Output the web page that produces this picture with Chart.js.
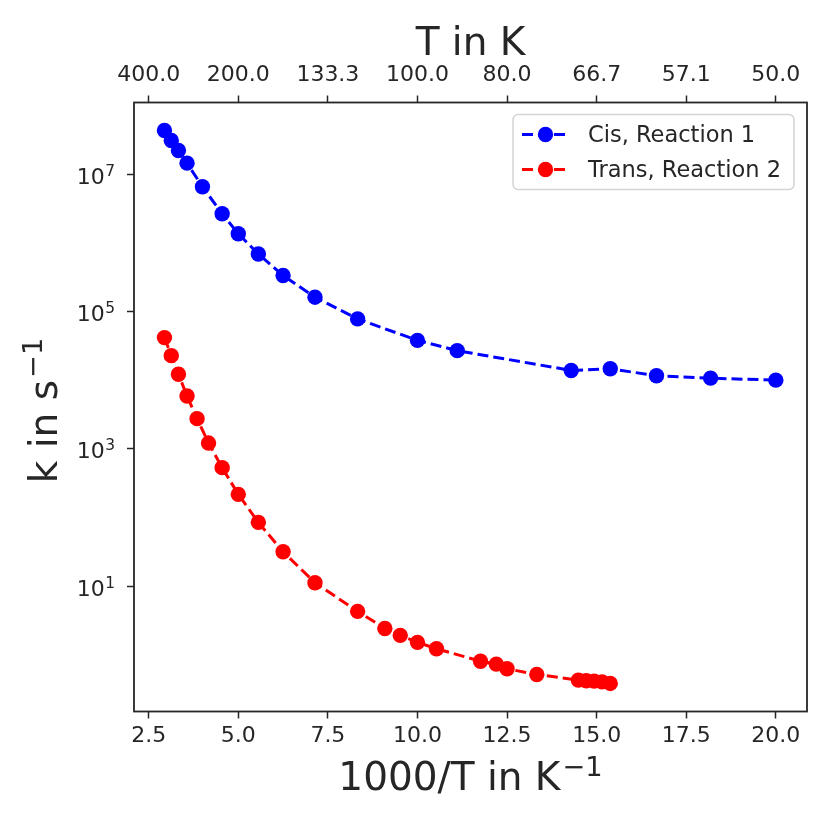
<!DOCTYPE html>
<html>
<head>
<meta charset="utf-8">
<script src="https://cdn.jsdelivr.net/npm/chart.js@4.4.0/dist/chart.umd.min.js"></script>
<style>
  html, body { margin: 0; padding: 0; background: #ffffff; }
  #wrap { width: 830px; height: 830px; }
</style>
</head>
<body>
<div id="wrap"><canvas id="c" width="830" height="830"></canvas></div>
<script>
// ---- data ----
const cisLabel = 'Cis, Reaction 1';
const transLabel = 'Trans, Reaction 2';
const cisX = [2.94, 3.13, 3.33, 3.57, 4.00, 4.55, 5.00, 5.56, 6.25, 7.14, 8.33, 10.00, 11.11, 14.29, 15.38, 16.67, 18.18, 20.00];
const cisK = [4.44e7, 3.17e7, 2.26e7, 1.48e7, 6.7e6, 2.7e6, 1.38e6, 7.0e5, 3.39e5, 1.64e5, 7.9e4, 3.84e4, 2.72e4, 1.40e4, 1.48e4, 1.17e4, 1.08e4, 1.01e4];
const transX = [2.94, 3.13, 3.33, 3.57, 3.85, 4.17, 4.55, 5.00, 5.56, 6.25, 7.14, 8.33, 9.09, 9.52, 10.00, 10.53, 11.76, 12.20, 12.50, 13.33, 14.49, 14.71, 14.93, 15.15, 15.38];
const transK = [4.22e4, 2.30e4, 1.23e4, 5.94e3, 2.77e3, 1.22e3, 534, 218, 85, 31.7, 11.2, 4.28, 2.41, 1.91, 1.51, 1.22, 0.80, 0.726, 0.621, 0.514, 0.425, 0.415, 0.41, 0.40, 0.38];
const xTickValues = [2.5, 5.0, 7.5, 10.0, 12.5, 15.0, 17.5, 20.0];
const bottomTickLabels = ['2.5', '5.0', '7.5', '10.0', '12.5', '15.0', '17.5', '20.0'];
const topTickLabels = ['400.0', '200.0', '133.3', '100.0', '80.0', '66.7', '57.1', '50.0'];
const yTickValues = [1e1, 1e3, 1e5, 1e7];
const yTickBase = '10';
const yTickExps = ['1', '3', '5', '7'];
const xLabelMain = '1000/T in K', xLabelSup = '−1';
const yLabelMain = 'k in s', yLabelSup = '−1';
const topLabel = 'T in K';

const FONT = "'DejaVu Sans', 'Liberation Sans', sans-serif";
const TXT = '#262626';
const xMin = 2.09, xMax = 20.87;
const yMin = 0.148, yMax = 1.135e8;

function pts(xs, ys) { return xs.map((x, i) => ({ x: x, y: ys[i] })); }

function drawSup(ctx, main, sup, size, cx, baseY) {
  ctx.font = size + 'px ' + FONT;
  const mw = ctx.measureText(main).width;
  const ss = size * 0.7;
  ctx.font = ss + 'px ' + FONT;
  const sw = ctx.measureText(sup).width;
  const gap = 2;
  const total = mw + gap + sw;
  const x0 = cx - total / 2;
  ctx.textAlign = 'left';
  ctx.textBaseline = 'alphabetic';
  ctx.font = size + 'px ' + FONT;
  ctx.fillText(main, x0, baseY);
  ctx.font = ss + 'px ' + FONT;
  ctx.fillText(sup, x0 + mw + gap, baseY - size * 0.367);
}

const framePlugin = {
  id: 'frame',
  afterDatasetsDraw(chart) {
    const { ctx, chartArea: a } = chart;
    ctx.save();
    ctx.strokeStyle = TXT;
    ctx.lineWidth = 1.8;
    ctx.strokeRect(a.left, a.top, a.right - a.left, a.bottom - a.top);
    ctx.restore();
  }
};

// y tick labels drawn as "10" with a raised exponent, placed through the log scale
const yTickLabelPlugin = {
  id: 'yTickLabels',
  afterDraw(chart) {
    const { ctx } = chart;
    const s = chart.scales.y;
    const right = s.right - 7 - 12;
    ctx.save();
    ctx.fillStyle = TXT;
    ctx.textBaseline = 'alphabetic';
    ctx.textAlign = 'left';
    yTickValues.forEach((v, i) => {
      const py = s.getPixelForValue(v);
      ctx.font = '15.4px ' + FONT;
      const ew = ctx.measureText(yTickExps[i]).width;
      ctx.font = '22px ' + FONT;
      const bw = ctx.measureText(yTickBase).width;
      const x0 = right - ew - 0.5 - bw;
      ctx.fillText(yTickBase, x0, py + 9.5);
      ctx.font = '15.4px ' + FONT;
      ctx.fillText(yTickExps[i], x0 + bw + 0.5, py + 9.5 - 8);
    });
    ctx.restore();
  }
};

const legendPlugin = {
  id: 'mplLegend',
  afterDraw(chart) {
    const { ctx, chartArea: a } = chart;
    const bx = a.right - 294, by = a.top + 12, bw = 281, bh = 75, r = 5;
    ctx.save();
    ctx.beginPath();
    ctx.moveTo(bx + r, by);
    ctx.arcTo(bx + bw, by, bx + bw, by + bh, r);
    ctx.arcTo(bx + bw, by + bh, bx, by + bh, r);
    ctx.arcTo(bx, by + bh, bx, by, r);
    ctx.arcTo(bx, by, bx + bw, by, r);
    ctx.closePath();
    ctx.fillStyle = 'rgba(255,255,255,0.8)';
    ctx.fill();
    ctx.strokeStyle = '#d4d4d4';
    ctx.lineWidth = 1.5;
    ctx.stroke();
    const items = chart.data.datasets.map(d => ({ label: d.label, color: d.borderColor }));
    items.forEach((it, i) => {
      const cy = by + 20 + i * 35;
      ctx.setLineDash([11, 5]);
      ctx.strokeStyle = it.color;
      ctx.lineWidth = 3;
      ctx.beginPath();
      ctx.moveTo(bx + 9, cy);
      ctx.lineTo(bx + 56, cy);
      ctx.stroke();
      ctx.setLineDash([]);
      ctx.fillStyle = it.color;
      ctx.beginPath();
      ctx.arc(bx + 32.5, cy, 7.7, 0, Math.PI * 2);
      ctx.fill();
      ctx.fillStyle = TXT;
      ctx.font = '22.5px ' + FONT;
      ctx.textAlign = 'left';
      ctx.textBaseline = 'alphabetic';
      ctx.fillText(it.label, bx + 75, cy + 7.8);
    });
    ctx.restore();
  }
};

const titlePlugin = {
  id: 'titles',
  afterDraw(chart) {
    const { ctx, chartArea: a } = chart;
    const cx = (a.left + a.right) / 2;
    const cy = (a.top + a.bottom) / 2;
    ctx.save();
    ctx.fillStyle = TXT;
    drawSup(ctx, xLabelMain, xLabelSup, 39, cx, 790);
    ctx.font = '39px ' + FONT;
    ctx.textAlign = 'center';
    ctx.textBaseline = 'alphabetic';
    ctx.fillText(topLabel, cx, 55);
    ctx.translate(56.7, cy + 3.5);
    ctx.rotate(-Math.PI / 2);
    drawSup(ctx, yLabelMain, yLabelSup, 39, 0, 0);
    ctx.restore();
  }
};

const tickFont = { family: FONT, size: 22 };

new Chart(document.getElementById('c'), {
  type: 'line',
  data: {
    datasets: [
      {
        label: cisLabel,
        data: pts(cisX, cisK),
        borderColor: '#0000ff',
        backgroundColor: '#0000ff',
        borderWidth: 3,
        borderDash: [11, 5],
        pointRadius: 7.7,
        pointHoverRadius: 7.7,
        pointBorderWidth: 0,
        pointBackgroundColor: '#0000ff',
        tension: 0,
        fill: false
      },
      {
        label: transLabel,
        data: pts(transX, transK),
        borderColor: '#ff0000',
        backgroundColor: '#ff0000',
        borderWidth: 3,
        borderDash: [11, 5],
        pointRadius: 7.7,
        pointHoverRadius: 7.7,
        pointBorderWidth: 0,
        pointBackgroundColor: '#ff0000',
        tension: 0,
        fill: false
      }
    ]
  },
  options: {
    responsive: false,
    animation: false,
    devicePixelRatio: 1,
    layout: { padding: { left: 0, right: 23, top: 0, bottom: 0 } },
    plugins: { legend: { display: false }, tooltip: { enabled: false } },
    scales: {
      x: {
        type: 'linear',
        position: 'bottom',
        min: xMin, max: xMax,
        afterBuildTicks: s => { s.ticks = xTickValues.map(v => ({ value: v })); },
        afterFit: s => { s.height = 830 - 711.5; },
        grid: { display: true, drawOnChartArea: false, drawTicks: true, tickLength: 7, tickWidth: 1.5, tickColor: TXT },
        border: { display: false },
        ticks: { autoSkip: false, maxRotation: 0, padding: 5, color: TXT, font: tickFont,
                 callback: (v, i) => bottomTickLabels[i] }
      },
      xTop: {
        type: 'linear',
        position: 'top',
        min: xMin, max: xMax,
        afterBuildTicks: s => { s.ticks = xTickValues.map(v => ({ value: v })); },
        afterFit: s => { s.height = 102.5; },
        grid: { display: true, drawOnChartArea: false, drawTicks: true, tickLength: 7, tickWidth: 1.5, tickColor: TXT },
        border: { display: false },
        ticks: { autoSkip: false, maxRotation: 0, padding: 7.5, color: TXT, font: tickFont,
                 callback: (v, i) => topTickLabels[i] }
      },
      y: {
        type: 'logarithmic',
        position: 'left',
        min: yMin, max: yMax,
        afterBuildTicks: s => { s.ticks = yTickValues.map(v => ({ value: v })); },
        afterFit: s => { s.width = 134; },
        grid: { display: true, drawOnChartArea: false, drawTicks: true, tickLength: 7, tickWidth: 1.5, tickColor: TXT },
        border: { display: false },
        ticks: { autoSkip: false, padding: 10, color: TXT, font: tickFont,
                 callback: () => '' }
      }
    }
  },
  plugins: [framePlugin, legendPlugin, titlePlugin, yTickLabelPlugin]
});
</script>
</body>
</html>
